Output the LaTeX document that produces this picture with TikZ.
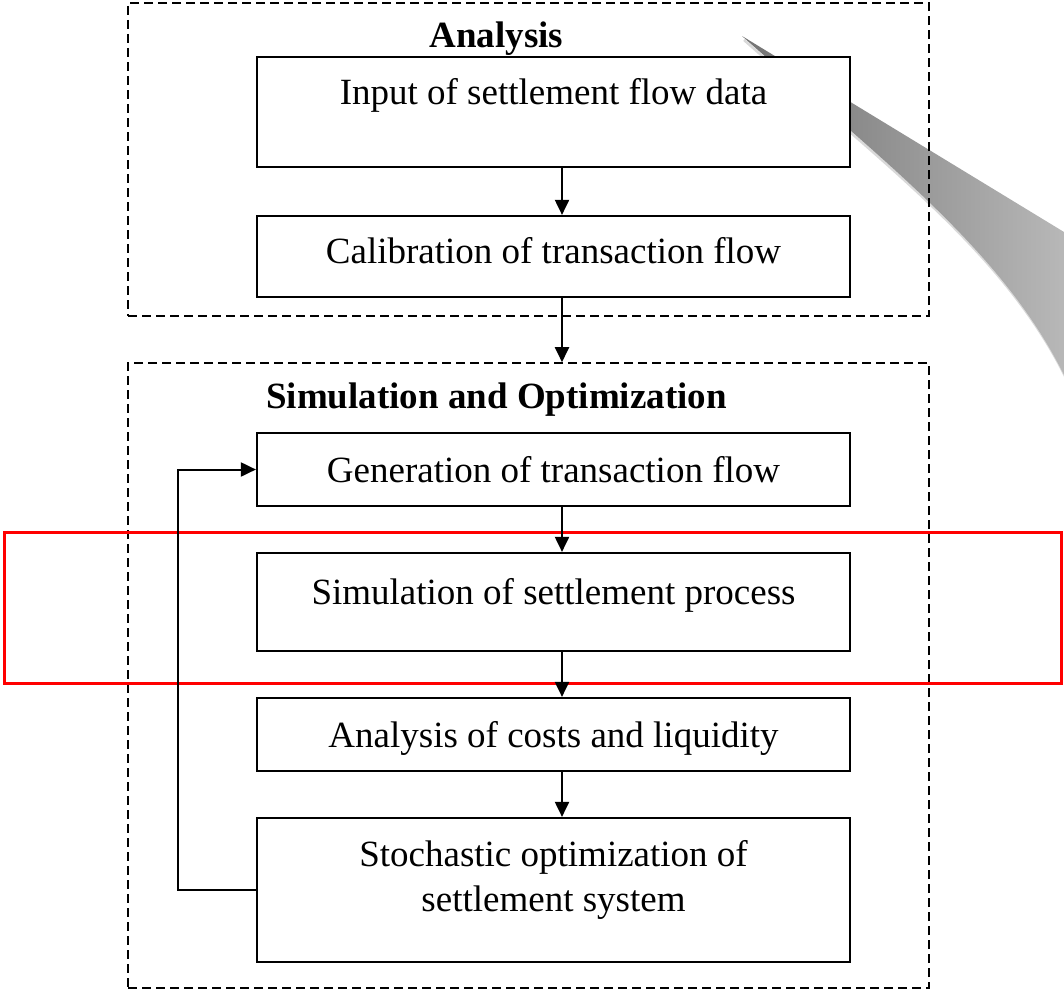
\documentclass[tikz,border=0pt]{standalone}
\usepackage{fontspec}
\setmainfont{Liberation Serif}
\usetikzlibrary{arrows.meta}
\begin{document}
\begin{tikzpicture}[x=1pt,y=-1pt,
  box/.style={draw=black, fill=white, line width=2.2pt, minimum width=593pt, inner sep=0pt},
  group/.style={draw=black, line width=1.6pt, dash pattern=on 9pt off 5pt, minimum width=801pt, inner sep=0pt},
  txt/.style={inner sep=0pt, anchor=base, font=\fontsize{37}{45}\selectfont},
  ttl/.style={inner sep=0pt, anchor=base, font=\fontsize{37}{45}\selectfont\bfseries},
  arr/.style={line width=2pt, -{Triangle[length=15pt,width=14pt]}},
  redbox/.style={draw=red, line width=2.2pt, minimum width=1057pt, minimum height=151pt, inner sep=0pt}]
\useasboundingbox (0,0) rectangle (1064,993);
% gray callout wedge
\draw[black!15, line width=2.5pt] (744,40) .. controls (884,164) and (1004,252) .. (1066,378);
\shade[left color=black!55, right color=black!28]
  (742,36) -- (1064,232) -- (1064,375) .. controls (1002,250) and (882,160) .. (742,36) -- cycle;
% groups
\node[group, minimum height=313pt] (g1) at (528.5,159.5) {};
\node[group, minimum height=625pt] (g2) at (528.5,675.5) {};
\node[ttl] (h1) at (496.5,47) {Analysis};
\node[ttl] (h2) at (496.5,408) {Simulation and Optimization};
% boxes
\node[box, minimum height=110pt] (b1) at (553.5,112) {};
\node[box, minimum height=81pt] (b2) at (553.5,256.5) {};
\node[box, minimum height=73pt] (b3) at (553.5,469.5) {};
\node[box, minimum height=98pt] (b4) at (553.5,602) {};
\node[box, minimum height=73pt] (b5) at (553.5,734.5) {};
\node[box, minimum height=144pt] (b6) at (553.5,890) {};
\node[txt] (t1) at (553.5,104) {Input of settlement flow data};
\node[txt] (t2) at (553.5,263) {Calibration of transaction flow};
\node[txt] (t3) at (553.5,482) {Generation of transaction flow};
\node[txt] (t4) at (553.5,604) {Simulation of settlement process};
\node[txt] (t5) at (553.5,747) {Analysis of costs and liquidity};
\node[txt] (t6) at (553.5,866) {Stochastic optimization of};
\node[txt] (t7) at (553.5,911) {settlement system};
% red highlight
\node[redbox] (r) at (533,608) {};
% connectors
\draw[arr] ([xshift=8.5pt]b1.south) -- ([xshift=8.5pt]b2.north);
\draw[arr] ([xshift=8.5pt]b2.south) -- ([xshift=8.5pt]b2.south |- g2.north);
\draw[arr] ([xshift=8.5pt]b3.south) -- ([xshift=8.5pt]b4.north);
\draw[arr] ([xshift=8.5pt]b4.south) -- ([xshift=8.5pt]b5.north);
\draw[arr] ([xshift=8.5pt]b5.south) -- ([xshift=8.5pt]b6.north);
\coordinate (fb) at (178,890);
\draw[arr] (b6.west) -- (fb) |- (b3.west);
\end{tikzpicture}
\end{document}
